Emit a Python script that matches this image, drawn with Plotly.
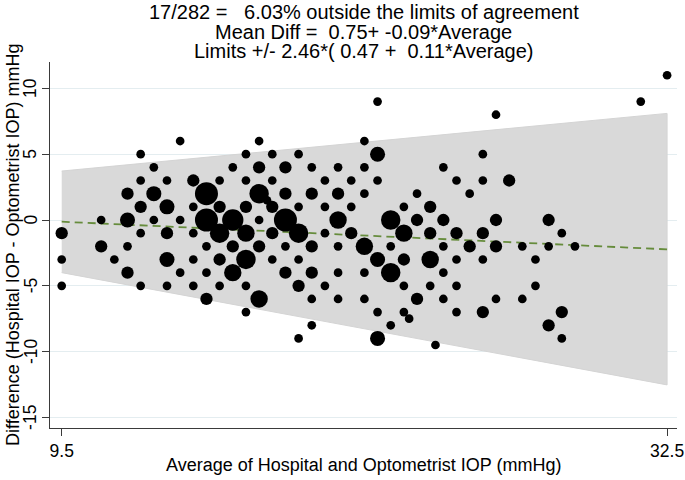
import math
import plotly.graph_objects as go

# ---- data (Bland-Altman, frequency-weighted bubbles) ----
avg_iop = [
    9.5, 9.5, 9.5,
    11, 11,
    11.5,
    12, 12, 12, 12,
    12.5, 12.5, 12.5, 12.5, 12.5,
    13, 13, 13,
    13.5, 13.5, 13.5, 13.5, 13.5,
    14, 14, 14,
    14.5, 14.5, 14.5, 14.5, 14.5,
    15, 15, 15, 15, 15,
    15.5, 15.5, 15.5, 15.5, 15.5,
    16, 16, 16, 16,
    16.5, 16.5, 16.5, 16.5, 16.5, 16.5, 16.5,
    17, 17, 17, 17, 17, 17,
    17.3,
    17.5, 17.5, 17.5, 17.5, 17.5,
    18, 18, 18, 18, 18,
    18.5, 18.5, 18.5, 18.5, 18.5, 18.5,
    19, 19, 19, 19, 19, 19,
    19.5, 19.5, 19.5, 19.5,
    20, 20, 20, 20, 20, 20,
    20.5, 20.5, 20.5,
    21, 21, 21, 21, 21, 21,
    21.5, 21.5, 21.5, 21.5, 21.5, 21.5,
    22, 22, 22, 22,
    22.5, 22.5, 22.5, 22.5, 22.5,
    22.7,
    23, 23, 23,
    23.5, 23.5, 23.5, 23.5,
    23.7,
    24, 24, 24, 24, 24,
    24.5, 24.5, 24.5, 24.5, 24.5,
    25, 25,
    25.5, 25.5, 25.5, 25.5, 25.5,
    26, 26, 26, 26,
    26.5,
    27, 27,
    27.5, 27.5,
    28, 28, 28,
    28.5, 28.5, 28.5,
    29,
    31.5,
    32.5,
]
diff_iop = [
    -1, -3, -5,
    0, -2,
    -3,
    2, 0, -2, -4,
    5, 3, 1, -1, -5,
    4, 2, 0,
    3, 1, -1, -3, -5,
    6, 0, -4,
    3, 1, -1, -3, -5,
    2, 0, -2, -4, -6,
    3, 1, -1, -3, -5,
    4, 0, -2, -4,
    5, 3, 1, -1, -3, -5, -7,
    6, 4, 2, 0, -2, -6,
    1.5,
    5, 3, 1, -1, -3,
    4, 2, 0, -2, -4,
    5, 1, -1, -3, -5, -9,
    4, 2, -2, -4, -6, -8,
    3, 1, -1, -5,
    4, 2, 0, -2, -4, -6,
    3, 1, -1,
    6, 4, 2, -2, -4, -6,
    9, 5, 3, -3, -7, -9,
    0, -2, -4, -8,
    1, -1, -3, -5, -7,
    -7.5,
    2, 0, -6,
    1, -1, -3, -5,
    -9.5,
    4, 0, -2, -4, -6,
    3, -1, -3, -5, -7,
    2, -2,
    5, 3, -1, -3, -7,
    8, 0, -2, -6,
    3,
    -2, -6,
    -3, -5,
    0, -2, -8,
    -1, -7, -9,
    -2,
    9,
    11,
]
n_obs = [
    2, 1, 1,
    1, 2,
    1,
    2, 3, 1, 2,
    1, 1, 2, 1, 1,
    1, 3, 1,
    1, 3, 2, 3, 1,
    1, 1, 1,
    2, 1, 1, 1, 1,
    7, 7, 1, 1, 2,
    1, 2, 5, 2, 1,
    1, 6, 2, 4,
    1, 1, 2, 4, 5, 1, 1,
    1, 2, 5, 1, 2, 4,
    1,
    1, 1, 2, 2, 1,
    2, 2, 7, 1, 2,
    1, 1, 5, 1, 2, 1,
    1, 2, 2, 2, 1, 1,
    1, 1, 1, 1,
    1, 2, 4, 1, 1, 1,
    1, 1, 2,
    1, 1, 1, 4, 1, 1,
    1, 3, 1, 3, 1, 3,
    5, 1, 5, 1,
    1, 4, 2, 1, 1,
    1,
    1, 2, 2,
    2, 2, 4, 1,
    1,
    1, 2, 1, 1, 1,
    1, 2, 1, 1, 1,
    1, 2,
    1, 1, 2, 1, 2,
    1, 2, 2, 1,
    2,
    1, 1,
    1, 1,
    2, 1, 2,
    1, 2, 1,
    1,
    1,
    1,
]

# limits of agreement and mean difference at the ends of the range
band_x = [9.5, 32.5]
upper_limit = [3.72, 8.10]
lower_limit = [-4.00, -12.53]
mean_diff = [-0.13, -2.23]

title_lines = [
    "17/282 =   6.03% outside the limits of agreement",
    "Mean Diff =  0.75+ -0.09*Average",
    "Limits +/- 2.46*( 0.47 +  0.11*Average)",
]
x_title = "Average of Hospital and Optometrist IOP (mmHg)"
y_title = "Difference (Hospital IOP - Optometrist IOP) mmHg"
x_ticks = [9.5, 32.5]
y_ticks = [-15, -10, -5, 0, 5, 10]

# ---- figure ----
FONT = "Liberation Sans, Arial, Helvetica, sans-serif"
AXIS_COL = "#3a3a3a"

fig = go.Figure()

band_poly_x = band_x + band_x[::-1]
band_poly_y = upper_limit + lower_limit[::-1]
fig.add_trace(go.Scatter(
    x=band_poly_x, y=band_poly_y, fill="toself", mode="lines",
    fillcolor="rgb(217,217,217)", line=dict(color="rgb(212,212,212)", width=1),
    hoverinfo="skip",
))

fig.add_trace(go.Scatter(
    x=band_x, y=mean_diff, mode="lines",
    line=dict(color="rgb(102,140,60)", width=1.8, dash="8px,5px"),
    hoverinfo="skip",
))

sizes = [8.7 * math.sqrt(n) for n in n_obs]
fig.add_trace(go.Scatter(
    x=avg_iop, y=diff_iop, mode="markers",
    marker=dict(color="black", size=sizes, sizemode="diameter",
                opacity=1, line=dict(width=0)),
    customdata=n_obs,
))

fig.update_layout(
    width=685, height=480,
    margin=dict(l=50, r=8, t=62, b=52, autoexpand=False),
    paper_bgcolor="white", plot_bgcolor="white",
    showlegend=False,
    font=dict(family=FONT, color="black"),
)

fig.update_xaxes(
    range=[9.0555, 32.877], tickvals=x_ticks, ticktext=["9.5", "32.5"],
    ticks="outside", ticklen=7, tickwidth=1, tickcolor=AXIS_COL,
    showline=True, linecolor=AXIS_COL, linewidth=1,
    showgrid=False, zeroline=False, automargin=False,
    tickfont=dict(size=17.5, family=FONT, color="black"),
)
# y tick labels are written as rotated annotations at the tick values below
fig.update_yaxes(
    range=[-15.805, 12.006], tickvals=y_ticks, showticklabels=False,
    ticks="outside", ticklen=7, tickwidth=1, tickcolor=AXIS_COL,
    showline=True, linecolor=AXIS_COL, linewidth=1,
    showgrid=True, gridcolor="#e4edf0", gridwidth=1,
    zeroline=False, automargin=False,
)

annotations = []
for text, ypx in zip(title_lines, [12.5, 32, 51]):
    annotations.append(dict(
        text=text, xref="paper", yref="paper", x=0.5, y=(428 - ypx) / 366,
        xanchor="center", yanchor="middle", showarrow=False,
        font=dict(size=20, family=FONT, color="black"),
    ))
for v in y_ticks:
    annotations.append(dict(
        text=str(v), xref="paper", yref="y", x=0, y=v, xshift=-19.5,
        xanchor="center", yanchor="middle", textangle=-90, showarrow=False,
        font=dict(size=17.5, family=FONT, color="black"),
    ))
annotations.append(dict(
    text=x_title, xref="paper", yref="paper", x=0.5, y=(428 - 465) / 366,
    xanchor="center", yanchor="middle", showarrow=False,
    font=dict(size=18, family=FONT, color="black"),
))
annotations.append(dict(
    text=y_title, xref="paper", yref="paper", x=0, y=0.5, xshift=-37,
    xanchor="center", yanchor="middle", textangle=-90, showarrow=False,
    font=dict(size=18, family=FONT, color="black"),
))
fig.update_layout(annotations=annotations)

# remove the default page margin so the 685x480 figure fills the window
fig.write_html(
    "out.html",
    config={"displayModeBar": False},
    post_script="document.body.style.margin='0';document.body.style.overflow='hidden';",
)
